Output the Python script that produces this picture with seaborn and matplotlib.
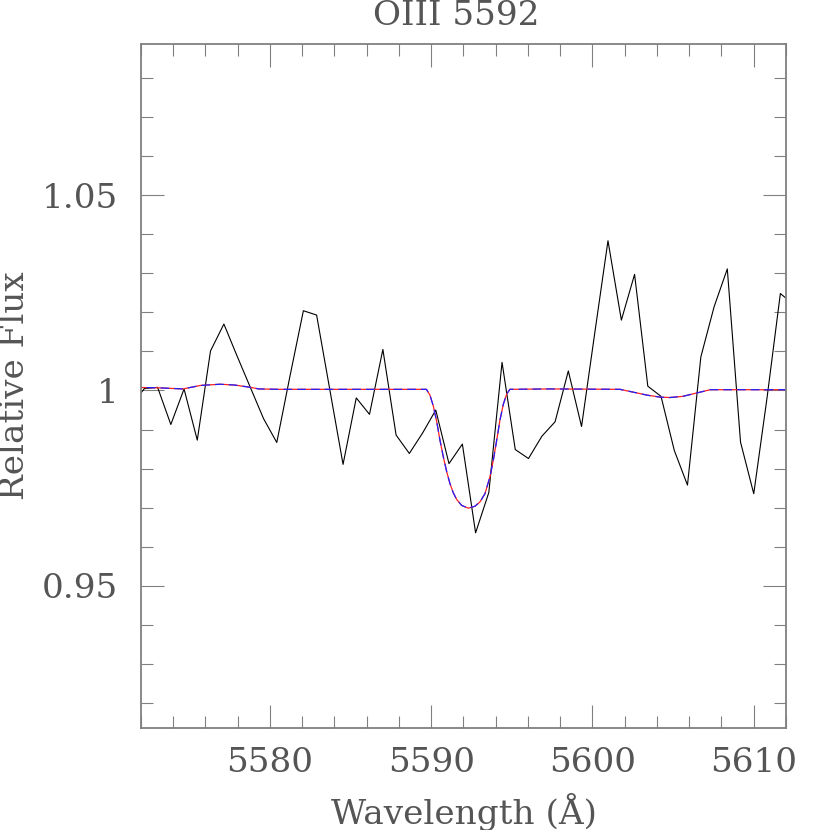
import numpy as np
import pandas as pd
import matplotlib
matplotlib.use("Agg")
import matplotlib.pyplot as plt
import seaborn as sns
from matplotlib.ticker import FixedLocator, MultipleLocator, FixedFormatter

obs_wave = [5571.38, 5572.21, 5573.03, 5573.85, 5574.67, 5575.49, 5576.31, 5577.14,
            5577.96, 5578.78, 5579.60, 5580.42, 5581.24, 5582.07, 5582.89, 5583.71,
            5584.53, 5585.35, 5586.17, 5587.00, 5587.82, 5588.64, 5589.46, 5590.28,
            5591.10, 5591.93, 5592.75, 5593.57, 5594.39, 5595.21, 5596.03, 5596.86,
            5597.68, 5598.50, 5599.32, 5600.14, 5600.96, 5601.79, 5602.61, 5603.43,
            5604.25, 5605.07, 5605.89, 5606.72, 5607.54, 5608.36, 5609.18, 5610.00,
            5610.82, 5611.65, 5612.47]
obs_flux = [0.9960, 1.0005, 1.0008, 0.9913, 1.0004, 0.9873, 1.0101, 1.0170,
            1.0088, 1.0008, 0.9928, 0.9867, 1.0037, 1.0204, 1.0193, 1.0002,
            0.9811, 0.9981, 0.9939, 1.0105, 0.9886, 0.9839, 0.9891, 0.9950,
            0.9813, 0.9863, 0.9636, 0.9739, 1.0072, 0.9849, 0.9826, 0.9883,
            0.9920, 1.0050, 0.9908, 1.0147, 1.0383, 1.0180, 1.0297, 1.0011,
            0.9985, 0.9847, 0.9758, 1.0086, 1.0214, 1.0311, 0.9868, 0.9736,
            0.9980, 1.0248, 1.0220]

# ---- model spectra ----
model_wave = [5571.5, 5573.0, 5574.6, 5575.7, 5576.9, 5577.8, 5578.8, 5579.3,
              5580.5, 5589.7, 5589.92, 5590.13, 5590.34, 5590.54, 5590.75, 5590.96,
              5591.16, 5591.37, 5591.58, 5591.89, 5592.30, 5592.71, 5593.02, 5593.33,
              5593.64, 5593.85, 5594.06, 5594.26, 5594.47, 5594.68, 5594.88, 5597.4,
              5601.7, 5602.5, 5603.4, 5604.2, 5604.8, 5605.6, 5606.5, 5607.3, 5612.5]
model_red = [1.0008, 1.0007, 1.0004, 1.0013, 1.0016, 1.0014, 1.0008, 1.0004,
             1.0003, 1.0003, 0.9988, 0.9960, 0.9920, 0.9873, 0.9830, 0.9792,
             0.9762, 0.9738, 0.9721, 0.9706, 0.9699, 0.9704, 0.9715, 0.9736,
             0.9779, 0.9822, 0.9873, 0.9924, 0.9965, 0.9991, 1.0003, 1.0004,
             1.0003, 0.9996, 0.9988, 0.9983, 0.9982, 0.9985, 0.9994, 1.0002, 1.0002]
model_blue = list(model_red)

x_major = [5580, 5590, 5600, 5610]
x_labels = ["5580", "5590", "5600", "5610"]
y_major = [0.95, 1.0, 1.05]
y_labels = ["0.95", "1", "1.05"]
title_text = "OIII 5592"
xlabel_text = "Wavelength (Å)"
ylabel_text = "Relative Flux"

obs_df = pd.DataFrame({"wave": obs_wave, "flux": obs_flux})
mod_df = pd.DataFrame({"wave": model_wave, "red": model_red, "blue": model_blue})

sns.set_style("ticks")
plt.rcParams["font.family"] = ["DejaVu Serif", "DejaVu Sans"]
text_col = "#555555"
frame_col = "#808080"

fig = plt.figure(figsize=(8.3, 8.3), dpi=100)
ax = fig.add_axes([141 / 830, 1 - 728 / 830, 645 / 830, 684 / 830])

sns.lineplot(data=obs_df, x="wave", y="flux", ax=ax, color="black",
             linewidth=0.8, estimator=None, sort=False)
sns.lineplot(data=mod_df, x="wave", y="red", ax=ax, color="#ff2020",
             linewidth=0.9, estimator=None, sort=False)
sns.lineplot(data=mod_df, x="wave", y="blue", ax=ax, color="#2020ff",
             linewidth=0.9, estimator=None, sort=False, linestyle="--")
ax.lines[-1].set_dashes([7, 4])

ax.set_xlim(5572, 5612)
ax.set_ylim(0.91368, 1.08862)

ax.xaxis.set_major_locator(FixedLocator(x_major))
ax.xaxis.set_major_formatter(FixedFormatter(x_labels))
ax.xaxis.set_minor_locator(MultipleLocator(2))
ax.yaxis.set_major_locator(FixedLocator(y_major))
ax.yaxis.set_major_formatter(FixedFormatter(y_labels))
ax.yaxis.set_minor_locator(MultipleLocator(0.01))

ax.tick_params(which="both", direction="in", top=True, right=True,
               color=frame_col, width=0.8)
ax.tick_params(which="major", length=16.5, labelsize=24.7, labelcolor=text_col)
ax.tick_params(which="minor", length=8.5)
ax.tick_params(axis="x", which="major", pad=13.5)
ax.tick_params(axis="y", which="major", pad=16.5)

for sp in ax.spines.values():
    sp.set_color(frame_col)
    sp.set_linewidth(1.3)
    sp.set_visible(True)

ax.set_xlabel(xlabel_text, fontsize=24.7, color=text_col, labelpad=10)
ax.set_ylabel(ylabel_text, fontsize=24.7, color=text_col, labelpad=8)
fig.text(456.5 / 830, 1 - 25 / 830, title_text, fontsize=24.7, color=text_col,
         ha="center", va="baseline")

fig.savefig("out.png", dpi=100, facecolor="white")
